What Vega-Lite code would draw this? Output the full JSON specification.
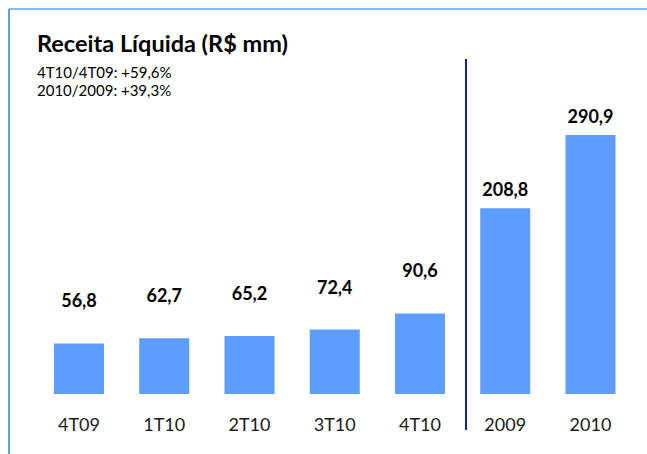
{
  "$schema": "https://vega.github.io/schema/vega-lite/v6.json",
  "autosize": "none",
  "width": 638,
  "height": 445,
  "padding": {"left": 9, "top": 9, "right": 0, "bottom": 0},
  "background": "white",
  "config": {
    "view": {"stroke": null},
    "font": "Lato",
    "text": {"font": "Lato"}
  },
  "title": {
    "text": "Receita Líquida (R$ mm)",
    "subtitle": ["4T10/4T09: +59,6%", "2010/2009: +39,3%"],
    "anchor": "start",
    "frame": "group",
    "dx": 28,
    "offset": -91,
    "font": "Lato",
    "fontSize": 23.5,
    "fontWeight": "bold",
    "color": "#000000",
    "subtitleFont": "Lato",
    "subtitleFontSize": 15,
    "subtitleColor": "#000000",
    "subtitleLineHeight": 18,
    "subtitlePadding": 10
  },
  "data": {
    "values": [
      {"periodo": "4T09", "receita": 56.8, "label": "56,8", "grupo": "trimestre"},
      {"periodo": "1T10", "receita": 62.7, "label": "62,7", "grupo": "trimestre"},
      {"periodo": "2T10", "receita": 65.2, "label": "65,2", "grupo": "trimestre"},
      {"periodo": "3T10", "receita": 72.4, "label": "72,4", "grupo": "trimestre"},
      {"periodo": "4T10", "receita": 90.6, "label": "90,6", "grupo": "trimestre"},
      {"periodo": "2009", "receita": 208.8, "label": "208,8", "grupo": "ano"},
      {"periodo": "2010", "receita": 290.9, "label": "290,9", "grupo": "ano"}
    ]
  },
  "resolve": {"scale": {"x": "independent"}, "axis": {"x": "independent"}},
  "layer": [
    {
      "mark": {"type": "bar", "color": "#5c9dff"},
      "encoding": {
        "x": {
          "field": "periodo",
          "type": "nominal",
          "sort": null,
          "scale": {"type": "band", "domain": ["4T09", "1T10", "2T10", "3T10", "4T10", "2009", "2010"], "paddingInner": 0.4135, "paddingOuter": 0.4487, "align": 0.588},
          "axis": {
            "title": null,
            "orient": "bottom",
            "offset": -60,
            "domain": false,
            "ticks": false,
            "grid": false,
            "labelAngle": 0,
            "labelFont": "Lato",
            "labelFontSize": 18,
            "labelColor": "#1a1a1a",
            "labelPadding": 22
          }
        },
        "y": {
          "field": "receita",
          "type": "quantitative",
          "scale": {"domain": [-67.4, 432.6], "nice": false, "zero": false},
          "axis": null
        },
        "y2": {"datum": 0}
      }
    },
    {
      "transform": [{"filter": "datum.grupo === 'trimestre'"}],
      "mark": {"type": "text", "dy": -36, "fontSize": 18, "fontWeight": "bold", "color": "#000000", "baseline": "alphabetic"},
      "encoding": {
        "x": {
          "field": "periodo",
          "type": "nominal",
          "sort": null,
          "scale": {"type": "band", "domain": ["4T09", "1T10", "2T10", "3T10", "4T10", "2009", "2010"], "paddingInner": 0.4135, "paddingOuter": 0.4487, "align": 0.588},
          "axis": null
        },
        "y": {"field": "receita", "type": "quantitative"},
        "text": {"field": "label"}
      }
    },
    {
      "transform": [{"filter": "datum.grupo === 'ano'"}],
      "mark": {"type": "text", "dy": -12, "fontSize": 18, "fontWeight": "bold", "color": "#000000", "baseline": "alphabetic"},
      "encoding": {
        "x": {
          "field": "periodo",
          "type": "nominal",
          "sort": null,
          "scale": {"type": "band", "domain": ["4T09", "1T10", "2T10", "3T10", "4T10", "2009", "2010"], "paddingInner": 0.4135, "paddingOuter": 0.4487, "align": 0.588},
          "axis": null
        },
        "y": {"field": "receita", "type": "quantitative"},
        "text": {"field": "label"}
      }
    },
    {
      "data": {"values": [{"sep": "2009", "topo": 376.4, "base": -40.4}]},
      "mark": {"type": "rule", "color": "#0b2a6b", "strokeWidth": 2},
      "encoding": {
        "x": {
          "field": "sep",
          "type": "nominal",
          "bandPosition": -0.285,
          "scale": {"type": "band", "domain": ["4T09", "1T10", "2T10", "3T10", "4T10", "2009", "2010"], "paddingInner": 0.4135, "paddingOuter": 0.4487, "align": 0.588},
          "axis": null
        },
        "y": {"field": "topo", "type": "quantitative"},
        "y2": {"field": "base"}
      }
    },
    {
      "data": {"values": [{"borda": 432.6}]},
      "mark": {"type": "rule", "color": "#5ba3e6", "strokeWidth": 1.5},
      "encoding": {
        "y": {"field": "borda", "type": "quantitative"}
      }
    },
    {
      "data": {"values": [{"borda": 0}]},
      "mark": {"type": "rule", "color": "#2a80d4", "strokeWidth": 1.5},
      "encoding": {
        "x": {"field": "borda", "type": "quantitative", "scale": {"domain": [0, 1]}, "axis": null}
      }
    }
  ]
}
